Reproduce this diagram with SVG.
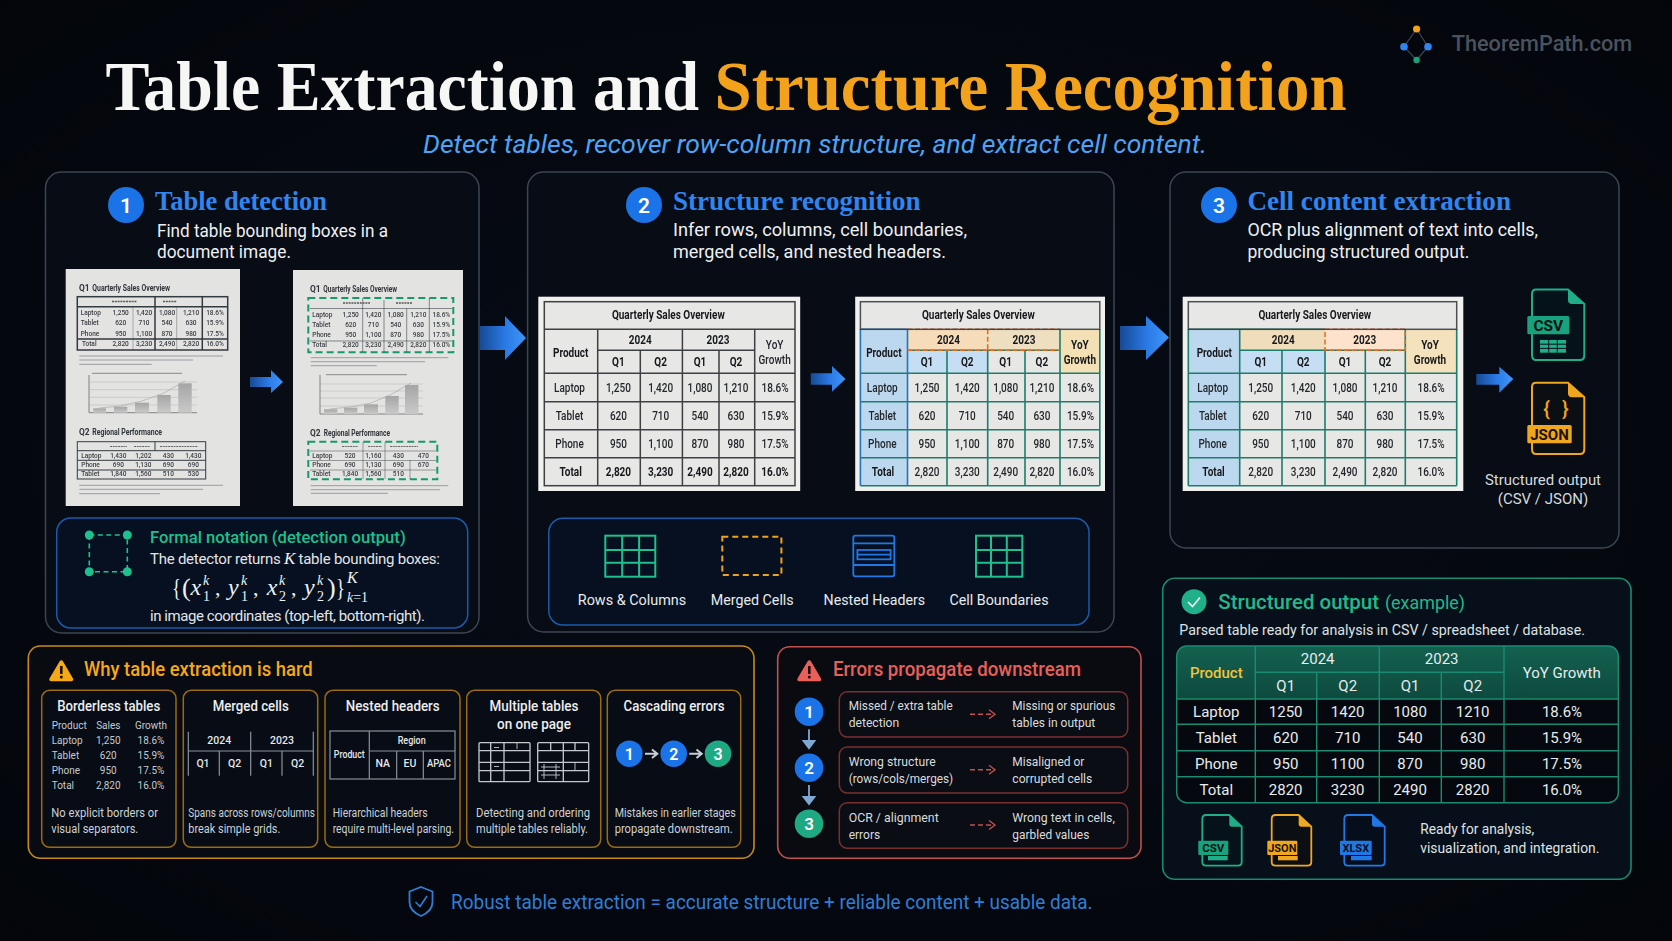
<svg xmlns="http://www.w3.org/2000/svg" width="1672" height="941" viewBox="0 0 1672 941">
<defs>
<linearGradient id="ga" x1="0" x2="1" y1="0" y2="0"><stop offset="0" stop-color="#164a94"/><stop offset="0.55" stop-color="#2a7ae6"/><stop offset="1" stop-color="#3f96f8"/></linearGradient>
<linearGradient id="gb" x1="0" x2="0" y1="0" y2="1"><stop offset="0" stop-color="#a5a5a5"/><stop offset="1" stop-color="#c9c9c9"/></linearGradient>
<linearGradient id="gh" x1="0" x2="0" y1="0" y2="1"><stop offset="0" stop-color="#14614f"/><stop offset="1" stop-color="#0d4a3e"/></linearGradient>
<radialGradient id="bg" cx="0.5" cy="0.5" r="0.75"><stop offset="0" stop-color="#070c16"/><stop offset="1" stop-color="#03050a"/></radialGradient>
<filter id="soft" x="-5%" y="-5%" width="110%" height="110%"><feGaussianBlur stdDeviation="0.35"/></filter>
<filter id="soft2" x="-5%" y="-5%" width="110%" height="110%"><feGaussianBlur stdDeviation="0.22"/></filter>
</defs>
<style>
text{font-family:"Roboto","Liberation Sans",sans-serif}
.ser{font-family:"Liberation Serif","DejaVu Serif",serif;font-weight:700}
.h2{font-size:27px;fill:#2f86f0}
.d{font-size:18px;fill:#eef0f3}
.p{fill:#070c15;stroke:#3c4552;stroke-width:1.5}
.nb{fill:#fff;font-size:21px;font-weight:600;text-anchor:middle}
.paper{fill:#e3e3e2}
.tl{stroke:#333a40;stroke-width:1;fill:none}
.thk{stroke:#333a40;stroke-width:1.5;fill:none}
.gl{stroke:#9a9c9f;stroke-width:1;fill:none}
.m{font-size:6.5px;fill:#3a3d42;font-weight:500}
.ms{font-size:6.5px;fill:#3a3d42;font-weight:500;text-anchor:middle}
.mh{font-size:8.4px;fill:#30343a;font-weight:700}
.dash{fill:none;stroke:#129a6d;stroke-width:2;stroke-dasharray:7 4}
.w{fill:#f0f1ee}
.tg{stroke:#3c3f42;stroke-width:1.5;fill:none}
.tb{stroke:#1c7d6c;stroke-width:1.6;fill:none}
.c{font-size:12.5px;fill:#24282c;font-weight:500;text-anchor:middle}
.cb{font-size:12.5px;fill:#17191c;font-weight:700;text-anchor:middle}
.fx{font-family:"Liberation Serif",serif;font-style:italic;fill:#eef0f3}
.fn{font-family:"Liberation Serif",serif;fill:#eef0f3}
.box{fill:#061020;stroke:#1a5bab;stroke-width:1.5}
.ig{fill:none;stroke:#1ec08e;stroke-width:2}
.il{font-size:15.5px;fill:#e8ebee;text-anchor:middle}
.card{fill:#070c15;stroke:#9a6b12;stroke-width:1.5}
.ct{font-size:14.5px;fill:#eceef0;font-weight:500;text-anchor:middle}
.cd{font-size:12.3px;fill:#ccd1d6}
.t10{font-size:10px;fill:#c5cad0}
.t10m{font-size:10px;fill:#c5cad0;text-anchor:middle}
.mg{fill:none;stroke:#8b929b;stroke-width:1.2}
.th{font-size:10.5px;fill:#e4e7ea;font-weight:500;text-anchor:middle}
.er{fill:#0b0d14;stroke:#7a2f2f;stroke-width:1.5}
.et{font-size:12.7px;fill:#d9dcdf}
.gt{font-size:15px;fill:#e8ebee;text-anchor:middle}
.gl2{stroke:#1a8a70;stroke-width:1.4;fill:none}
.lab{font-weight:700;fill:#06140f;text-anchor:middle}
</style>
<rect width="1672" height="941" fill="url(#bg)"/>

<g id="title">
<text class="ser" x="105.5" y="110" font-size="70" fill="#f6f6f4" textLength="593.5" lengthAdjust="spacingAndGlyphs">Table Extraction and</text>
<text class="ser" x="714.5" y="110" font-size="70" fill="#f3a21b" textLength="632.1" lengthAdjust="spacingAndGlyphs">Structure Recognition</text>
<text x="423" y="153" font-size="25" font-style="italic" fill="#4da3f5" textLength="784" lengthAdjust="spacingAndGlyphs">Detect tables, recover row-column structure, and extract cell content.</text>
</g>

<g id="logo">
<path d="M1416.6 29L1428 46.7L1416.6 60L1404 46.7Z" fill="none" stroke="#3c4552" stroke-width="1.2"/>
<circle cx="1416.6" cy="29" r="3.6" fill="#f3a21b"/>
<circle cx="1404" cy="46.7" r="3.8" fill="#2f86f0"/>
<circle cx="1428" cy="46.7" r="3.8" fill="#2f86f0"/>
<circle cx="1416.6" cy="60" r="3.2" fill="#14a37a"/>
<text x="1451.7" y="51" font-size="22" font-weight="500" fill="#4a525e" textLength="180.5" lengthAdjust="spacingAndGlyphs">TheoremPath.com</text>
</g>

<g id="panel-detection">
<rect class="p" x="45.5" y="172" width="433.5" height="461" rx="16"/>
<circle cx="126" cy="205" r="18" fill="#1b73e8"/><text class="nb" x="126" y="212.5">1</text>
<text class="ser h2" x="155" y="210" textLength="172" lengthAdjust="spacingAndGlyphs">Table detection</text>
<text class="d" x="157" y="236.5" textLength="231" lengthAdjust="spacingAndGlyphs">Find table bounding boxes in a</text>
<text class="d" x="157" y="257.5" textLength="134" lengthAdjust="spacingAndGlyphs">document image.</text>

<g id="doc-before" filter="url(#soft)">
<rect class="paper" x="65.7" y="269" width="174.3" height="237"/>
<text class="mh" x="79" y="290.7">Q1</text><text class="mh" x="92.3" y="290.7" textLength="77.7" lengthAdjust="spacingAndGlyphs">Quarterly Sales Overview</text>
<rect class="thk" x="77.3" y="296.7" width="150.4" height="53.3"/>
<path class="thk" d="M77.3 306.7H227.7M155 296.7V350M202.3 296.7V350M77.3 339H227.7"/>
<path class="tl" d="M133 306.7V350M176.7 306.7V350" stroke-opacity=".35"/>
<path d="M112 301.5H137M163 301.5H177" stroke="#555" stroke-width="1.6" stroke-dasharray="2 .8"/>
<text class="m" x="80.7" y="315"><tspan>Laptop</tspan></text><text class="ms" y="315"><tspan x="120.7">1,250</tspan><tspan x="144">1,420</tspan><tspan x="167">1,080</tspan><tspan x="191">1,210</tspan><tspan x="215">18.6%</tspan></text>
<text class="m" x="80.7" y="325.3"><tspan>Tablet</tspan></text><text class="ms" y="325.3"><tspan x="120.7">620</tspan><tspan x="144">710</tspan><tspan x="167">540</tspan><tspan x="191">630</tspan><tspan x="215">15.9%</tspan></text>
<text class="m" x="80.7" y="335.6"><tspan>Phone</tspan></text><text class="ms" y="335.6"><tspan x="120.7">950</tspan><tspan x="144">1,100</tspan><tspan x="167">870</tspan><tspan x="191">980</tspan><tspan x="215">17.5%</tspan></text>
<text class="m" x="82" y="346"><tspan>Total</tspan></text><text class="ms" y="346"><tspan x="120.7">2,820</tspan><tspan x="144">3,230</tspan><tspan x="167">2,490</tspan><tspan x="191">2,820</tspan><tspan x="215">16.0%</tspan></text>
<path class="gl" d="M79.3 356H223M79.3 360H193M79.3 364.3H151.7M79.3 485.3H223M79.3 489.3H203M79.3 493.7H160" stroke-width="1.1"/>
<path d="M92 373.3H182" stroke="#888" stroke-width="1"/>
<path d="M89 382H197M89 389.7H197M89 397.3H197M89 405H197" stroke="#c0c0c0" stroke-width=".7"/>
<path d="M89 375V412.7H197" stroke="#777" stroke-width=".9" fill="none"/>
<rect x="93.3" y="408.3" width="12.7" height="4.4" fill="url(#gb)"/><rect x="114" y="406.7" width="13.3" height="6" fill="url(#gb)"/><rect x="135" y="402.7" width="14" height="10" fill="url(#gb)"/><rect x="157.3" y="395" width="13.4" height="17.7" fill="url(#gb)"/><rect x="178.3" y="383.3" width="13.4" height="29.4" fill="url(#gb)"/>
<path d="M99.5 408L120 406L142 401L164 393L185 381" fill="none" stroke="#aaa" stroke-width=".7"/>
<text class="mh" x="79" y="435.3">Q2</text><text class="mh" x="92.3" y="435.3" textLength="69.7" lengthAdjust="spacingAndGlyphs">Regional Performance</text>
<rect class="tl" x="77.3" y="441.7" width="128.4" height="37.3"/>
<path class="tl" d="M77.3 450.7H205.7M77.3 460.3H205.7M77.3 470H205.7M155 441.7V450.7"/>
<path d="M110 446.5H127M134 446.5H150M160 446.5H198" stroke="#666" stroke-width="1.2" stroke-dasharray="2 .7"/>
<text class="m" x="81.3" y="457.6">Laptop</text><text class="ms" y="457.6"><tspan x="118.3">1,430</tspan><tspan x="143.3">1,202</tspan><tspan x="168.3">430</tspan><tspan x="193.3">1,430</tspan></text>
<text class="m" x="81.3" y="467">Phone</text><text class="ms" y="467"><tspan x="118.3">690</tspan><tspan x="143.3">1,130</tspan><tspan x="168.3">690</tspan><tspan x="193.3">690</tspan></text>
<text class="m" x="81.3" y="476.4">Tablet</text><text class="ms" y="476.4"><tspan x="118.3">1,840</tspan><tspan x="143.3">1,560</tspan><tspan x="168.3">510</tspan><tspan x="193.3">530</tspan></text>
</g>

<g id="doc-after" filter="url(#soft)">
<rect class="paper" x="293" y="270" width="170" height="236"/>
<text class="mh" x="310" y="292.3">Q1</text><text class="mh" x="323.3" y="292.3" textLength="73.7" lengthAdjust="spacingAndGlyphs">Quarterly Sales Overview</text>
<rect class="dash" x="308.3" y="298" width="145" height="54.3"/>
<path class="tl" d="M310 308.5H452M310 341H452M362.7 298V352M384 300V352M406.7 308.5V352M429.3 298V352" stroke-opacity=".55"/>
<path d="M343 303H370M396 303H412" stroke="#555" stroke-width="1.6" stroke-dasharray="2 .8"/>
<text class="m" x="312.3" y="316.6">Laptop</text><text class="ms" y="316.6"><tspan x="350.7">1,250</tspan><tspan x="373.3">1,420</tspan><tspan x="395.7">1,080</tspan><tspan x="418.3">1,210</tspan><tspan x="441.3">18.6%</tspan></text>
<text class="m" x="312.3" y="327">Tablet</text><text class="ms" y="327"><tspan x="350.7">620</tspan><tspan x="373.3">710</tspan><tspan x="395.7">540</tspan><tspan x="418.3">630</tspan><tspan x="441.3">15.9%</tspan></text>
<text class="m" x="312.3" y="337.3">Phone</text><text class="ms" y="337.3"><tspan x="350.7">950</tspan><tspan x="373.3">1,100</tspan><tspan x="395.7">870</tspan><tspan x="418.3">980</tspan><tspan x="441.3">17.5%</tspan></text>
<text class="m" x="312.3" y="347.3">Total</text><text class="ms" y="347.3"><tspan x="350.7">2,820</tspan><tspan x="373.3">3,230</tspan><tspan x="395.7">2,490</tspan><tspan x="418.3">2,820</tspan><tspan x="441.3">16.0%</tspan></text>
<path class="gl" d="M310.7 357.7H448.3M310.7 361.7H425M310.7 365.7H376.7M310.7 485.7H448.3M310.7 489.7H440M310.7 493.3H388" stroke-width="1.1"/>
<path d="M326 374.7H407" stroke="#888" stroke-width="1"/>
<path d="M320 384H423M320 391H423M320 398H423M320 406H423" stroke="#c0c0c0" stroke-width=".7"/>
<path d="M320 375V414H423" stroke="#777" stroke-width=".9" fill="none"/>
<rect x="324" y="409.3" width="13.3" height="4.7" fill="url(#gb)"/><rect x="344" y="407.7" width="13.3" height="6.3" fill="url(#gb)"/><rect x="364" y="404.3" width="14" height="9.7" fill="url(#gb)"/><rect x="385.3" y="396" width="13.4" height="18" fill="url(#gb)"/><rect x="405" y="385" width="13.4" height="29" fill="url(#gb)"/>
<path d="M330 409L350 407L371 403L392 394L411 383" fill="none" stroke="#aaa" stroke-width=".7"/>
<text class="mh" x="310" y="435.7">Q2</text><text class="mh" x="323.7" y="435.7" textLength="66.3" lengthAdjust="spacingAndGlyphs">Regional Performance</text>
<rect class="dash" x="308.3" y="441.7" width="129" height="37.6"/>
<path class="tl" d="M310 451H436M310 460.5H436M310 470H436M363 442V479M385 442V479M410 460V479" stroke-opacity=".45"/>
<path d="M342 446.5H358M368 446.5H382M390 446.5H418" stroke="#666" stroke-width="1.2" stroke-dasharray="2 .7"/>
<text class="m" x="312.3" y="457.6">Laptop</text><text class="ms" y="457.6"><tspan x="350">520</tspan><tspan x="373.3">1,160</tspan><tspan x="398.3">430</tspan><tspan x="423.3">470</tspan></text>
<text class="m" x="312.3" y="467">Phone</text><text class="ms" y="467"><tspan x="350">690</tspan><tspan x="373.3">1,130</tspan><tspan x="398.3">690</tspan><tspan x="423.3">670</tspan></text>
<text class="m" x="312.3" y="476.4">Tablet</text><text class="ms" y="476.4"><tspan x="350">1,840</tspan><tspan x="373.3">1,560</tspan><tspan x="398.3">510</tspan></text>
</g>

<g id="formal-notation">
<rect class="box" x="56.7" y="518" width="411" height="110" rx="14"/>
<path d="M89.3 535H127.3V571.7H89.3Z" fill="none" stroke="#1ec08e" stroke-width="1.6" stroke-dasharray="5 3.5"/>
<circle cx="89.3" cy="535" r="4.5" fill="#1ec08e"/><circle cx="127.3" cy="535" r="4.5" fill="#1ec08e"/><circle cx="89.3" cy="571.7" r="4.5" fill="#1ec08e"/><circle cx="127.3" cy="571.7" r="4.5" fill="#1ec08e"/>
<text x="150" y="543" font-size="17" font-weight="500" fill="#1ec08e" textLength="255.7" lengthAdjust="spacingAndGlyphs">Formal notation (detection output)</text>
<text x="150" y="564" font-size="15" fill="#e2e5e8" textLength="290" lengthAdjust="spacing">The detector returns <tspan class="fx" font-size="17">K</tspan> table bounding boxes:</text>
<text class="fn" x="172" y="596" font-size="26" textLength="9" lengthAdjust="spacingAndGlyphs">{</text>
<text class="fn" x="182" y="596" font-size="26">(</text>
<text class="fx" x="190.5" y="595" font-size="24">x</text>
<text class="fx" x="203" y="585" font-size="14">k</text><text class="fn" x="203" y="601" font-size="14">1</text>
<text class="fn" x="215" y="595" font-size="22">,</text>
<text class="fx" x="228" y="595" font-size="24">y</text>
<text class="fx" x="241" y="585" font-size="14">k</text><text class="fn" x="241" y="601" font-size="14">1</text>
<text class="fn" x="253" y="595" font-size="22">,</text>
<text class="fx" x="266.7" y="595" font-size="24">x</text>
<text class="fx" x="279" y="585" font-size="14">k</text><text class="fn" x="279" y="601" font-size="14">2</text>
<text class="fn" x="291" y="595" font-size="22">,</text>
<text class="fx" x="304" y="595" font-size="24">y</text>
<text class="fx" x="317" y="585" font-size="14">k</text><text class="fn" x="317" y="601" font-size="14">2</text>
<text class="fn" x="327" y="596" font-size="26">)</text>
<text class="fn" x="336" y="596" font-size="26" textLength="9" lengthAdjust="spacingAndGlyphs">}</text>
<text class="fx" x="347" y="583" font-size="16">K</text>
<text class="fx" x="347" y="602" font-size="14">k<tspan class="fn" font-style="normal">=1</tspan></text>
<text x="150" y="621" font-size="15" fill="#e2e5e8" textLength="275" lengthAdjust="spacing">in image coordinates (top-left, bottom-right).</text>
</g>
</g>

<g id="panel-structure">
<rect class="p" x="527.6" y="172" width="586.4" height="460" rx="16"/>
<circle cx="644" cy="205" r="18" fill="#1b73e8"/><text class="nb" x="644" y="212.5">2</text>
<text class="ser h2" x="673" y="210" textLength="247.6" lengthAdjust="spacingAndGlyphs">Structure recognition</text>
<text class="d" x="673" y="236" textLength="294" lengthAdjust="spacingAndGlyphs">Infer rows, columns, cell boundaries,</text>
<text class="d" x="673" y="257.5" textLength="273" lengthAdjust="spacingAndGlyphs">merged cells, and nested headers.</text>

<g id="table-plain" filter="url(#soft2)">
<rect class="w" x="538.3" y="296.7" width="261.9" height="194.3"/>
<rect x="544.3" y="301.7" width="250.7" height="184" fill="#e7e7e5"/>
<rect class="tg" x="544.3" y="301.7" width="250.7" height="184"/>
<path class="tg" d="M544.3 329.3H795M597.7 329.3V485.7M597.7 350.3H754.7M682.4 329.3V485.7M754.7 329.3V485.7M640.3 350.3V485.7M719 350.3V485.7M544.3 373.3H795M544.3 401.7H795M544.3 429.7H795M544.3 457.7H795"/>
<g transform="scale(.8 1)">
<text class="cb" x="835.4" y="318.6">Quarterly Sales Overview</text>
<text class="cb" y="344.3"><tspan x="800.4">2024</tspan><tspan x="897.5">2023</tspan></text>
<text class="cb" x="713.3" y="356.6">Product</text>
<text class="c" y="348.6" x="968.3">YoY</text><text class="c" x="968.3" y="364.3">Growth</text>
<text class="cb" y="366"><tspan x="773">Q1</tspan><tspan x="825.8">Q2</tspan><tspan x="875">Q1</tspan><tspan x="920">Q2</tspan></text>
<text class="c" y="391.6"><tspan x="711.9">Laptop</tspan><tspan x="773">1,250</tspan><tspan x="825.8">1,420</tspan><tspan x="875">1,080</tspan><tspan x="920">1,210</tspan><tspan x="968.8">18.6%</tspan></text>
<text class="c" y="419.6"><tspan x="711.9">Tablet</tspan><tspan x="773">620</tspan><tspan x="825.8">710</tspan><tspan x="875">540</tspan><tspan x="920">630</tspan><tspan x="968.8">15.9%</tspan></text>
<text class="c" y="447.6"><tspan x="711.9">Phone</tspan><tspan x="773">950</tspan><tspan x="825.8">1,100</tspan><tspan x="875">870</tspan><tspan x="920">980</tspan><tspan x="968.8">17.5%</tspan></text>
<text class="cb" y="476"><tspan x="713.3">Total</tspan><tspan x="773">2,820</tspan><tspan x="825.8">3,230</tspan><tspan x="875">2,490</tspan><tspan x="920">2,820</tspan><tspan x="968.8">16.0%</tspan></text>
</g>
</g>

<g id="table-annotated" filter="url(#soft2)">
<rect class="w" x="855.2" y="296.7" width="249.8" height="194.3"/>
<rect x="860.4" y="301.7" width="239.4" height="184" fill="#e7e7e5"/>
<rect x="860.4" y="329.3" width="47.1" height="156.4" fill="#bcd8ee"/>
<rect x="907.5" y="329.3" width="80.2" height="21" fill="#f6dcb8"/>
<rect x="987.7" y="329.3" width="72.3" height="21" fill="#eedfc0"/>
<rect x="907.5" y="350.3" width="80.2" height="23" fill="#c6def3"/>
<rect x="1060" y="329.3" width="39.8" height="44" fill="#f3e0b5"/>
<path class="tb" d="M860.4 373.3H1099.8M860.4 401.7H1099.8M860.4 429.7H1099.8M860.4 457.7H1099.8M860.4 485.7H1099.8M947 350.3V485.7M987.7 350.3V485.7M1025 350.3V485.7M1060 329.3V485.7M907.5 350.3H1060M1099.8 329.3V485.7"/>
<path d="M860.4 329.3V485.7M907.5 329.3V485.7M860.4 329.3H907.5" stroke="#2276b8" stroke-width="1.6" fill="none"/>
<path d="M907.5 329.3H1060M987.7 329.3V350.3M907.5 350.3H1060" stroke="#e86a1c" stroke-width="1.5" stroke-dasharray="5 2.5" fill="none"/>
<rect class="tg" x="860.4" y="301.7" width="239.4" height="27.6" stroke-opacity=".9"/>
<g transform="scale(.8 1)">
<text class="cb" x="1222.9" y="318.6">Quarterly Sales Overview</text>
<text class="cb" y="344.3"><tspan x="1185.6">2024</tspan><tspan x="1280">2023</tspan></text>
<text class="cb" x="1104.8" y="356.6">Product</text>
<text class="cb" x="1349.9" y="348.6">YoY</text><text class="cb" x="1349.9" y="364.3">Growth</text>
<text class="cb" y="366"><tspan x="1158.8">Q1</tspan><tspan x="1209.1">Q2</tspan><tspan x="1257.1">Q1</tspan><tspan x="1302.4">Q2</tspan></text>
<text class="c" y="391.6"><tspan x="1102.9">Laptop</tspan><tspan x="1158.8">1,250</tspan><tspan x="1209.1">1,420</tspan><tspan x="1257.1">1,080</tspan><tspan x="1302.4">1,210</tspan><tspan x="1350.6">18.6%</tspan></text>
<text class="c" y="419.6"><tspan x="1102.9">Tablet</tspan><tspan x="1158.8">620</tspan><tspan x="1209.1">710</tspan><tspan x="1257.1">540</tspan><tspan x="1302.4">630</tspan><tspan x="1350.6">15.9%</tspan></text>
<text class="c" y="447.6"><tspan x="1102.9">Phone</tspan><tspan x="1158.8">950</tspan><tspan x="1209.1">1,100</tspan><tspan x="1257.1">870</tspan><tspan x="1302.4">980</tspan><tspan x="1350.6">17.5%</tspan></text>
<text class="cb" x="1103.8" y="476">Total</text>
<text class="c" y="476"><tspan x="1158.8">2,820</tspan><tspan x="1209.1">3,230</tspan><tspan x="1257.1">2,490</tspan><tspan x="1302.4">2,820</tspan><tspan x="1350.6">16.0%</tspan></text>
</g>
</g>

<g id="feature-legend">
<rect class="box" x="548.8" y="518.3" width="540.2" height="106.7" rx="14"/>
<g id="icon-rows-columns"><rect class="ig" x="605.3" y="535.7" width="50" height="41"/><path class="ig" d="M622.2 535.7V576.7M639.1 535.7V576.7M605.3 550H655.3M605.3 562.7H655.3"/></g>
<text class="il" x="632" y="605" textLength="108.4" lengthAdjust="spacingAndGlyphs">Rows &amp; Columns</text>
<rect x="722.3" y="536.7" width="59.1" height="38.3" fill="none" stroke="#f0a21a" stroke-width="2" stroke-dasharray="6 4"/>
<text class="il" x="752.2" y="605" textLength="83" lengthAdjust="spacingAndGlyphs">Merged Cells</text>
<g id="icon-nested" fill="none" stroke="#1f78e6" stroke-width="1.8"><rect x="853.3" y="535.7" width="41" height="40.6" rx="2"/><path d="M853.3 543.3H894.3M853.3 565H894.3"/><rect x="857.4" y="550" width="33.2" height="9.3"/><path d="M857.4 554.7H890.6"/></g>
<text class="il" x="874.4" y="605" textLength="101.6" lengthAdjust="spacingAndGlyphs">Nested Headers</text>
<g id="icon-cell-boundaries"><rect class="ig" x="976" y="535.7" width="46.3" height="41"/><path class="ig" d="M991 535.7V576.7M1006.8 535.7V576.7M976 550H1022.3M976 562.7H1022.3"/></g>
<text class="il" x="999" y="605" textLength="99" lengthAdjust="spacingAndGlyphs">Cell Boundaries</text>
</g>
</g>

<g id="panel-extraction">
<rect class="p" x="1170" y="172" width="449" height="376" rx="16"/>
<circle cx="1219" cy="205" r="18" fill="#1b73e8"/><text class="nb" x="1219" y="212.5">3</text>
<text class="ser h2" x="1247.4" y="210" textLength="263.6" lengthAdjust="spacingAndGlyphs">Cell content extraction</text>
<text class="d" x="1247.4" y="236" textLength="290.6" lengthAdjust="spacingAndGlyphs">OCR plus alignment of text into cells,</text>
<text class="d" x="1247.4" y="257.5" textLength="222" lengthAdjust="spacingAndGlyphs">producing structured output.</text>

<g id="table-output" filter="url(#soft2)">
<rect class="w" x="1182.7" y="296.7" width="280.6" height="194.3"/>
<rect x="1188.3" y="301.7" width="268.4" height="184" fill="#e7e7e5"/>
<rect x="1188.3" y="329.3" width="51.4" height="156.4" fill="#bcd8ee"/>
<rect x="1239.7" y="329.3" width="85.3" height="21" fill="#efddbb"/>
<rect x="1325" y="329.3" width="80.3" height="21" fill="#fde3cc"/>
<rect x="1239.7" y="350.3" width="85.3" height="23" fill="#c6def3"/>
<rect x="1405.3" y="329.3" width="51.4" height="44" fill="#f3e2bc"/>
<path class="tb" d="M1188.3 373.3H1456.7M1188.3 401.7H1456.7M1188.3 429.7H1456.7M1188.3 457.7H1456.7M1188.3 485.7H1456.7M1188.3 329.3V485.7M1239.7 329.3V485.7M1282 350.3V485.7M1325 350.3V485.7M1365.3 350.3V485.7M1405.3 329.3V485.7M1456.7 329.3V485.7M1188.3 329.3H1325M1239.7 350.3H1405.3"/>
<path d="M1325 329.3H1405.3V350.3H1325Z" fill="none" stroke="#e86a1c" stroke-width="1.5" stroke-dasharray="5 2.5"/>
<rect class="tg" x="1188.3" y="301.7" width="268.4" height="27.6" stroke-opacity=".9"/>
<g transform="scale(.8 1)">
<text class="cb" x="1643.5" y="318.6">Quarterly Sales Overview</text>
<text class="cb" y="344.3"><tspan x="1604.1">2024</tspan><tspan x="1705.9">2023</tspan></text>
<text class="cb" x="1517.9" y="356.6">Product</text>
<text class="cb" x="1787.5" y="348.6">YoY</text><text class="cb" x="1787.5" y="364.3">Growth</text>
<text class="cb" y="366"><tspan x="1575.9">Q1</tspan><tspan x="1629.1">Q2</tspan><tspan x="1681.3">Q1</tspan><tspan x="1731.3">Q2</tspan></text>
<text class="c" y="391.6"><tspan x="1515.9">Laptop</tspan><tspan x="1575.9">1,250</tspan><tspan x="1629.1">1,420</tspan><tspan x="1681.3">1,080</tspan><tspan x="1731.3">1,210</tspan><tspan x="1788.8">18.6%</tspan></text>
<text class="c" y="419.6"><tspan x="1515.9">Tablet</tspan><tspan x="1575.9">620</tspan><tspan x="1629.1">710</tspan><tspan x="1681.3">540</tspan><tspan x="1731.3">630</tspan><tspan x="1788.8">15.9%</tspan></text>
<text class="c" y="447.6"><tspan x="1515.9">Phone</tspan><tspan x="1575.9">950</tspan><tspan x="1629.1">1,100</tspan><tspan x="1681.3">870</tspan><tspan x="1731.3">980</tspan><tspan x="1788.8">17.5%</tspan></text>
<text class="cb" x="1516.9" y="476">Total</text>
<text class="c" y="476"><tspan x="1575.9">2,820</tspan><tspan x="1629.1">3,230</tspan><tspan x="1681.3">2,490</tspan><tspan x="1731.3">2,820</tspan><tspan x="1788.8">16.0%</tspan></text>
</g>
</g>

<g id="file-csv">
<path d="M1532 294Q1532 289.5 1536 289.5H1568L1584.3 304V355Q1584.3 360 1580 360H1536Q1532 360 1532 355Z" fill="#06121a" stroke="#1fae87" stroke-width="2"/>
<path d="M1568 289.5L1584.3 304H1572Q1568 304 1568 300Z" fill="#1fae87"/>
<rect x="1527.3" y="316" width="42" height="18.3" rx="1.5" fill="#18a27e"/>
<text class="lab" x="1548.3" y="330.5" font-size="15.5" fill="#06140f">CSV</text>
<rect x="1540" y="340" width="26" height="12.7" fill="#1fae87"/>
<path d="M1540 344.2H1566M1540 348.4H1566M1548.7 340V352.7M1557.3 340V352.7" stroke="#06121a" stroke-width="1"/>
</g>
<g id="file-json">
<path d="M1532 387Q1532 382.7 1536 382.7H1568L1584.3 397.3V449Q1584.3 454 1580 454H1536Q1532 454 1532 449Z" fill="#0b0f14" stroke="#f0a61e" stroke-width="2"/>
<path d="M1568 382.7L1584.3 397.3H1572Q1568 397.3 1568 393.3Z" fill="#f0a61e"/>
<text x="1556" y="416" font-size="20" font-weight="500" fill="#f0a61e" text-anchor="middle" word-spacing="7">{ }</text>
<rect x="1527.3" y="425" width="44.4" height="18.3" rx="1.5" fill="#f0a61e"/>
<text class="lab" x="1549.5" y="439.5" font-size="15" style="fill:#1a1205">JSON</text>
</g>
<text x="1543" y="485" font-size="15" fill="#d6dadf" text-anchor="middle" textLength="116" lengthAdjust="spacingAndGlyphs">Structured output</text>
<text x="1543" y="504" font-size="15" fill="#d6dadf" text-anchor="middle">(CSV / JSON)</text>
</g>

<g id="connectors">
<path id="arrow-1-2" d="M480 326H505V316L526 338L505 360V350H480Z" fill="url(#ga)"/>
<path id="arrow-2-3" d="M1120 326H1146V316L1169 337.5L1146 360V350H1120Z" fill="url(#ga)"/>
<path id="arrow-docs" d="M250 377H271V370L283 382L271 393V387H250Z" fill="url(#ga)"/>
<path id="arrow-tables" d="M810.8 373.3H832V366L845.4 379L832 391.7V384.7H810.8Z" fill="url(#ga)"/>
<path id="arrow-output" d="M1476.3 374H1499.3V366.7L1513.3 379L1499.3 392.7V384.7H1476.3Z" fill="url(#ga)"/>
</g>

<g id="panel-hard">
<rect x="28.3" y="646" width="725.7" height="212.3" rx="12" fill="#080b12" stroke="#c98a14" stroke-width="1.6"/>
<path d="M61.3 662L71.5 679.5H51Z" fill="#f5a914" stroke="#f5a914" stroke-width="3.5" stroke-linejoin="round"/>
<rect x="60" y="666" width="2.6" height="8" fill="#1a1205"/><circle cx="61.3" cy="677" r="1.5" fill="#1a1205"/>
<text x="84" y="675.7" font-size="19.5" font-weight="500" fill="#f5a914" textLength="228.7" lengthAdjust="spacingAndGlyphs">Why table extraction is hard</text>

<g id="card-borderless">
<rect class="card" x="41.7" y="690.3" width="134.3" height="157" rx="8"/>
<text class="ct" x="108.7" y="710.7" textLength="103" lengthAdjust="spacingAndGlyphs">Borderless tables</text>
<text class="t10" x="51.7" y="729.3">Product</text><text class="t10m" y="729.3"><tspan x="108.3">Sales</tspan><tspan x="151">Growth</tspan></text>
<text class="t10" x="51.7" y="744.3">Laptop</text><text class="t10m" y="744.3"><tspan x="108.3">1,250</tspan><tspan x="151">18.6%</tspan></text>
<text class="t10" x="51.7" y="759.3">Tablet</text><text class="t10m" y="759.3"><tspan x="108.3">620</tspan><tspan x="151">15.9%</tspan></text>
<text class="t10" x="51.7" y="774.3">Phone</text><text class="t10m" y="774.3"><tspan x="108.3">950</tspan><tspan x="151">17.5%</tspan></text>
<text class="t10" x="51.7" y="789.3">Total</text><text class="t10m" y="789.3"><tspan x="108.3">2,820</tspan><tspan x="151">16.0%</tspan></text>
<text class="cd" x="51.3" y="816.7" textLength="106.7" lengthAdjust="spacingAndGlyphs">No explicit borders or</text>
<text class="cd" x="51.3" y="832.7" textLength="87" lengthAdjust="spacingAndGlyphs">visual separators.</text>
</g>
<g id="card-merged">
<rect class="card" x="183.3" y="690.3" width="134.4" height="157" rx="8"/>
<text class="ct" x="250.7" y="710.7" textLength="76" lengthAdjust="spacingAndGlyphs">Merged cells</text>
<path class="mg" d="M188.3 731.7V775.7M250.7 731.7V775.7M313.3 731.7V775.7M188.3 751H313.3M219.3 751V775.7M282 751V775.7"/>
<text class="th" y="744.3"><tspan x="219.3">2024</tspan><tspan x="282">2023</tspan></text>
<text class="th" y="767.3"><tspan x="203">Q1</tspan><tspan x="234.7">Q2</tspan><tspan x="266.3">Q1</tspan><tspan x="297.7">Q2</tspan></text>
<text class="cd" x="188.3" y="816.7" textLength="126.7" lengthAdjust="spacingAndGlyphs">Spans across rows/columns</text>
<text class="cd" x="188.3" y="832.7" textLength="92" lengthAdjust="spacingAndGlyphs">break simple grids.</text>
</g>
<g id="card-nested">
<rect class="card" x="325" y="690.3" width="135" height="157" rx="8"/>
<text class="ct" x="392.7" y="710.7" textLength="94" lengthAdjust="spacingAndGlyphs">Nested headers</text>
<rect class="mg" x="330" y="731" width="125" height="48"/>
<path class="mg" d="M369.3 731V779M369.3 751H455M396.7 751V779M423.3 751V779"/>
<text class="th" x="349.3" y="758.3" textLength="31" lengthAdjust="spacingAndGlyphs">Product</text><text class="th" x="411.7" y="744.3" textLength="28" lengthAdjust="spacingAndGlyphs">Region</text>
<text class="th" x="382.7" y="766.7">NA</text><text class="th" x="410" y="766.7">EU</text><text class="th" x="439" y="766.7" textLength="24" lengthAdjust="spacingAndGlyphs">APAC</text>
<text class="cd" x="332.7" y="816.7" textLength="95" lengthAdjust="spacingAndGlyphs">Hierarchical headers</text>
<text class="cd" x="332.7" y="832.7" textLength="121.3" lengthAdjust="spacingAndGlyphs">require multi-level parsing.</text>
</g>
<g id="card-multiple">
<rect class="card" x="466.7" y="690.3" width="134" height="157" rx="8"/>
<text class="ct" x="534" y="710.7" textLength="89" lengthAdjust="spacingAndGlyphs">Multiple tables</text>
<text class="ct" x="534" y="729" textLength="74" lengthAdjust="spacingAndGlyphs">on one page</text>
<g fill="none" stroke="#c6cad0" stroke-width="1.3">
<rect x="479" y="742.7" width="51" height="39" rx="1"/><path d="M479 750.7H530M479 762.3H530M479 770.7H530M490.7 742.7V781.7M504 742.7V781.7"/>
<rect x="537.7" y="742.7" width="51" height="39" rx="1"/><path d="M537.7 750.7H588.7M537.7 762.3H588.7M537.7 770.7H588.7M563.3 742.7V781.7M550.7 742.7V750.7M575 742.7V750.7"/>
<path d="M494 747.5H499M517 743V749M494 766.5H499M575 763V770M541 767H560M541 775H560M544 764V779M556 764V779" stroke-width=".9"/>
</g>
<text class="cd" x="476" y="816.7" textLength="114" lengthAdjust="spacingAndGlyphs">Detecting and ordering</text>
<text class="cd" x="476" y="832.7" textLength="112" lengthAdjust="spacingAndGlyphs">multiple tables reliably.</text>
</g>
<g id="card-cascading">
<rect class="card" x="607.3" y="690.3" width="133.4" height="157" rx="8"/>
<text class="ct" x="674" y="710.7" textLength="101" lengthAdjust="spacingAndGlyphs">Cascading errors</text>
<circle cx="629.3" cy="753.7" r="13.3" fill="#1b73e8"/><circle cx="673.7" cy="753.7" r="13.3" fill="#1b73e8"/><circle cx="718" cy="753.7" r="13.3" fill="#1fa982"/>
<text x="629.3" y="759.5" font-size="16" font-weight="600" fill="#fff" text-anchor="middle">1</text><text x="673.7" y="759.5" font-size="16" font-weight="600" fill="#fff" text-anchor="middle">2</text><text x="718" y="759.5" font-size="16" font-weight="600" fill="#fff" text-anchor="middle">3</text>
<path d="M645 753.7H656M652 749.5L657.3 753.7L652 758M689.3 753.7H700.5M696.5 749.5L701.7 753.7L696.5 758" fill="none" stroke="#c9ced5" stroke-width="2"/>
<text class="cd" x="614.7" y="816.7" textLength="121" lengthAdjust="spacingAndGlyphs">Mistakes in earlier stages</text>
<text class="cd" x="614.7" y="832.7" textLength="118" lengthAdjust="spacingAndGlyphs">propagate downstream.</text>
</g>
</g>

<g id="panel-errors">
<rect x="777.7" y="646.7" width="363.3" height="211.6" rx="12" fill="#0a0b11" stroke="#c2504c" stroke-width="1.6"/>
<path d="M809.3 662L819.5 679.5H799Z" fill="#e8605a" stroke="#e8605a" stroke-width="3.5" stroke-linejoin="round"/>
<rect x="808" y="666" width="2.6" height="8" fill="#20090a"/><circle cx="809.3" cy="677" r="1.5" fill="#20090a"/>
<text x="833" y="675.7" font-size="19.5" font-weight="500" fill="#e8605a" textLength="248" lengthAdjust="spacingAndGlyphs">Errors propagate downstream</text>
<circle cx="809" cy="711.7" r="14.3" fill="#1b73e8"/><circle cx="809" cy="767.7" r="14.3" fill="#1b73e8"/><circle cx="809" cy="823.7" r="14.3" fill="#1fa982"/>
<text x="809" y="718" font-size="17" font-weight="600" fill="#fff" text-anchor="middle">1</text><text x="809" y="774" font-size="17" font-weight="600" fill="#fff" text-anchor="middle">2</text><text x="809" y="830" font-size="17" font-weight="600" fill="#fff" text-anchor="middle">3</text>
<path d="M809 729.3V745M803.5 741L809 748.3L814.5 741Z M809 785V801M803.5 797L809 804L814.5 797Z" fill="#7fa8d0" stroke="#7fa8d0" stroke-width="1.8"/>
<rect class="er" x="839.3" y="691.7" width="288.4" height="45.3" rx="8"/>
<rect class="er" x="839.3" y="747" width="288.4" height="46" rx="8"/>
<rect class="er" x="839.3" y="802.7" width="288.4" height="45.6" rx="8"/>
<text class="et" x="848.7" y="710" textLength="104" lengthAdjust="spacingAndGlyphs">Missed / extra table</text><text class="et" x="848.7" y="726.7" textLength="50.5" lengthAdjust="spacingAndGlyphs">detection</text>
<text class="et" x="848.7" y="765.8" textLength="87" lengthAdjust="spacingAndGlyphs">Wrong structure</text><text class="et" x="848.7" y="782.5" textLength="104.5" lengthAdjust="spacingAndGlyphs">(rows/cols/merges)</text>
<text class="et" x="848.7" y="821.8" textLength="90" lengthAdjust="spacingAndGlyphs">OCR / alignment</text><text class="et" x="848.7" y="838.5" textLength="31.5" lengthAdjust="spacingAndGlyphs">errors</text>
<text class="et" x="1012.3" y="710" textLength="103" lengthAdjust="spacingAndGlyphs">Missing or spurious</text><text class="et" x="1012.3" y="726.7" textLength="83" lengthAdjust="spacingAndGlyphs">tables in output</text>
<text class="et" x="1012.3" y="765.8" textLength="72" lengthAdjust="spacingAndGlyphs">Misaligned or</text><text class="et" x="1012.3" y="782.5" textLength="80" lengthAdjust="spacingAndGlyphs">corrupted cells</text>
<text class="et" x="1012.3" y="821.8" textLength="102.5" lengthAdjust="spacingAndGlyphs">Wrong text in cells,</text><text class="et" x="1012.3" y="838.5" textLength="77" lengthAdjust="spacingAndGlyphs">garbled values</text>
<g fill="none" stroke="#c2504c" stroke-width="1.4"><path d="M970 714.3H994" stroke-dasharray="5 3"/><path d="M989 709.8L995 714.3L989 718.8"/><path d="M970 769.7H994" stroke-dasharray="5 3"/><path d="M989 765.2L995 769.7L989 774.2"/><path d="M970 825H994" stroke-dasharray="5 3"/><path d="M989 820.5L995 825L989 829.5"/></g>
</g>

<g id="panel-output-example">
<rect x="1162.7" y="578.3" width="468.3" height="301" rx="12" fill="#07101a" stroke="#1a8a70" stroke-width="1.6"/>
<circle cx="1194" cy="601.7" r="12.5" fill="#1fb08a"/><path d="M1188 602L1192.5 606.5L1200 597.5" fill="none" stroke="#f3f6f5" stroke-width="1.6"/>
<text x="1218.3" y="608.8" font-size="21" font-weight="500" fill="#22b98c" textLength="160.7" lengthAdjust="spacingAndGlyphs">Structured output</text>
<text x="1385" y="608.8" font-size="18" fill="#22b98c" textLength="80" lengthAdjust="spacingAndGlyphs">(example)</text>
<text x="1179.3" y="635" font-size="14.5" fill="#dfe2e5" textLength="405.7" lengthAdjust="spacingAndGlyphs">Parsed table ready for analysis in CSV / spreadsheet / database.</text>
<g id="table-parsed">
<path d="M1176.7 699V656Q1176.7 646 1186.7 646H1608.3Q1618.3 646 1618.3 656V699Z" fill="url(#gh)"/>
<path d="M1176.7 699V792.7Q1176.7 802.7 1186.7 802.7H1608.3Q1618.3 802.7 1618.3 792.7V699Z" fill="#05090f"/>
<rect class="gl2" x="1176.7" y="646" width="441.6" height="156.7" rx="10"/>
<path class="gl2" d="M1255.3 646V802.7M1379.3 646V802.7M1504 646V802.7M1316.7 672.3V802.7M1441.3 672.3V802.7M1255.3 672.3H1504M1176.7 699H1618.3M1176.7 724.3H1618.3M1176.7 750.7H1618.3M1176.7 776.7H1618.3"/>
<text class="gt" font-weight="500" x="1216.3" y="678" style="fill:#f2c33c">Product</text>
<text class="gt" y="664.3"><tspan x="1317.7">2024</tspan><tspan x="1441.7">2023</tspan></text>
<text class="gt" y="691"><tspan x="1285.7">Q1</tspan><tspan x="1347.7">Q2</tspan><tspan x="1410">Q1</tspan><tspan x="1472.7">Q2</tspan></text>
<text class="gt" x="1561.7" y="678">YoY Growth</text>
<text class="gt" y="717"><tspan x="1216.3">Laptop</tspan><tspan x="1285.7">1250</tspan><tspan x="1347.7">1420</tspan><tspan x="1410">1080</tspan><tspan x="1472.7">1210</tspan><tspan x="1562">18.6%</tspan></text>
<text class="gt" y="743"><tspan x="1216.3">Tablet</tspan><tspan x="1285.7">620</tspan><tspan x="1347.7">710</tspan><tspan x="1410">540</tspan><tspan x="1472.7">630</tspan><tspan x="1562">15.9%</tspan></text>
<text class="gt" y="769"><tspan x="1216.3">Phone</tspan><tspan x="1285.7">950</tspan><tspan x="1347.7">1100</tspan><tspan x="1410">870</tspan><tspan x="1472.7">980</tspan><tspan x="1562">17.5%</tspan></text>
<text class="gt" y="795"><tspan x="1216.3">Total</tspan><tspan x="1285.7">2820</tspan><tspan x="1347.7">3230</tspan><tspan x="1410">2490</tspan><tspan x="1472.7">2820</tspan><tspan x="1562">16.0%</tspan></text>
</g>
<g id="mini-csv"><path d="M1202.3 819Q1202.3 815 1206 815H1229.3L1241.7 826.7V862Q1241.7 865.7 1238 865.7H1206Q1202.3 865.7 1202.3 862Z" fill="#06121a" stroke="#1fae87" stroke-width="1.8"/><path d="M1229.3 815L1241.7 826.7H1232Q1229.3 826.7 1229.3 824Z" fill="#1fae87"/><rect x="1198.3" y="840.7" width="30" height="14.3" rx="1" fill="#18a27e"/><text class="lab" x="1213.3" y="852" font-size="11.5">CSV</text><rect x="1208" y="856" width="19.7" height="4.3" fill="#1fae87"/></g>
<g id="mini-json"><path d="M1271.7 819Q1271.7 815 1275.5 815H1298.7L1311.3 826.7V862Q1311.3 865.7 1307.5 865.7H1275.5Q1271.7 865.7 1271.7 862Z" fill="#0b0f14" stroke="#f0a61e" stroke-width="1.8"/><path d="M1298.7 815L1311.3 826.7H1301.5Q1298.7 826.7 1298.7 824Z" fill="#f0a61e"/><rect x="1267.3" y="840.7" width="30" height="14.3" rx="1" fill="#f0a61e"/><text class="lab" x="1282.3" y="852" font-size="11" style="fill:#1a1205">JSON</text><rect x="1278" y="856" width="19.7" height="4.3" fill="#f0a61e"/></g>
<g id="mini-xlsx"><path d="M1344.3 819Q1344.3 815 1348 815H1372L1384.7 826.7V862Q1384.7 865.7 1381 865.7H1348Q1344.3 865.7 1344.3 862Z" fill="#060e1c" stroke="#1f78e6" stroke-width="1.8"/><path d="M1372 815L1384.7 826.7H1375Q1372 826.7 1372 824Z" fill="#1f78e6"/><rect x="1340" y="840.7" width="31.7" height="14.3" rx="1" fill="#1f78e6"/><text class="lab" x="1355.8" y="852" font-size="11" style="fill:#06101f">XLSX</text><rect x="1351" y="856" width="20.7" height="4.3" fill="#1f78e6"/></g>
<text x="1420.3" y="833.8" font-size="14" fill="#dfe2e5" textLength="114" lengthAdjust="spacingAndGlyphs">Ready for analysis,</text>
<text x="1420.3" y="852.5" font-size="14" fill="#dfe2e5" textLength="179" lengthAdjust="spacingAndGlyphs">visualization, and integration.</text>
</g>

<g id="footer">
<path d="M421 887L432.5 891.5V902Q432.5 911 421 916Q409.5 911 409.5 902V891.5Z" fill="none" stroke="#2f7fd6" stroke-width="1.8"/>
<path d="M415.5 902L420 906.5L427 896" fill="none" stroke="#2f7fd6" stroke-width="1.6"/>
<text x="451" y="908.8" font-size="20" fill="#2f7fd6" textLength="641.6" lengthAdjust="spacingAndGlyphs">Robust table extraction = accurate structure + reliable content + usable data.</text>
</g>
</svg>
